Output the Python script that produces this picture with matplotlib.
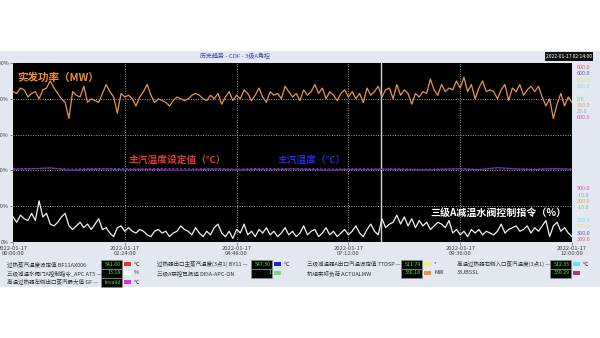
import numpy as np
import matplotlib
matplotlib.use("Agg")
import matplotlib.pyplot as plt
from matplotlib.patches import Rectangle

plt.rcParams['font.family'] = ['Noto Sans CJK SC', 'DejaVu Sans']

# ---------------- data ----------------
hours_total = 12.0
power_pct = [84, 83, 86, 85, 81, 83, 84, 80, 85, 86, 90,
             86, 83, 80, 78, 69, 84, 82, 81, 87, 78,
             80, 79, 78, 83, 88, 84, 81, 72, 83, 81,
             82, 80, 76, 81, 84, 88, 82, 78, 80, 79,
             78, 76, 79, 81, 80, 79, 80, 82, 83, 82,
             80, 79, 82, 80, 83, 77, 81, 84, 79, 82,
             80, 85, 83, 79, 82, 86, 81, 78, 84, 82,
             83, 80, 87, 84, 81, 83, 79, 85, 82, 84,
             88, 83, 86, 80, 84, 82, 79, 83, 85, 81,
             84, 80, 83, 78, 86, 82, 84, 87, 81, 85,
             86, 80, 88, 82, 85, 83, 77, 83, 81, 84,
             83, 91, 85, 82, 88, 84, 86, 85, 90, 86,
             92, 84, 88, 80, 86, 90, 84, 85, 84, 80,
             85, 88, 79, 86, 84, 88, 82, 85, 87, 84,
             87, 81, 76, 80, 69, 77, 83, 76, 81,
             78]
valve_pct = [14, 11, 15, 13, 12, 16, 12, 23, 14, 16, 10,
             9, 11, 14, 16, 9, 7, 9, 11, 8, 10,
             7, 10, 13, 7, 8, 5, 3, 8, 9, 6,
             8, 6, 5, 7, 6, 4, 3, 6, 7, 5,
             6, 3, 5, 6, 9, 7, 6, 4, 8, 5,
             3, 6, 4, 8, 10, 5, 3, 6, 2, 7,
             5, 10, 4, 6, 3, 7, 5, 8, 4, 6,
             3, 5, 8, 4, 6, 3, 5, 9, 4, 6,
             7, 3, 5, 8, 4, 6, 3, 5, 7, 4,
             6, 9, 5, 3, 7, 10, 6, 4, 13, 8,
             10, 11, 15, 10, 14, 9, 13, 8, 12, 9,
             11, 7, 9, 11, 10, 8, 12, 5, 7, 4,
             6, 3, 7, 5, 7, 4, 6, 5, 4, 6,
             10, 5, 7, 8, 9, 6, 7, 9, 5, 8,
             6, 9, 12, 3, 9, 11, 6, 8, 5,
             3]
temp_sp_pct = [41.2, 41.0, 41.3, 40.8, 41.0, 41.1, 41.0, 40.9, 41.1, 41.0,
               40.9, 41.0, 40.8, 41.0, 41.1, 40.9, 41.0, 40.8, 40.9, 41.0,
               40.8, 40.9, 40.7, 40.8, 40.9, 40.6, 40.8, 40.9, 40.7, 40.8, 40.8]
temp_act_pct = [40.6, 40.9, 41.4, 40.2, 40.5, 40.8, 40.3, 40.6, 40.4, 40.1,
                40.5, 40.7, 40.3, 40.6, 40.4, 40.8, 40.5, 40.2, 40.6, 40.4,
                40.7, 40.5, 40.3, 40.6, 40.9, 40.4, 41.6, 40.8, 40.5, 41.0, 40.6]
tick_hours = [0, 2.4, 4.8, 7.2, 9.6, 12]
tick_labels = ["2022-01-17\n00:00:00", "2022-01-17\n02:24:00", "2022-01-17\n04:48:00",
               "2022-01-17\n07:12:00", "2022-01-17\n09:36:00", "2022-01-17\n12:00:00"]
y_ticks = [0, 20, 40, 60, 80, 100]
y_labels = ["0%", "20%", "40%", "60%", "80%", "100%"]
cursor_hour = 7.9

scale_top = [("600.0", "#e06060"), ("600.0", "#5a5ad8"), ("600.0", "#e8e070"),
             ("600.0", "#80e0f0"), ("0.0", "#f4f4f4"), ("0.0", "#70d070"),
             ("350.0", "#e8a060"), ("25.0", "#a0a0c0"), ("600.0", "#c060d0")]
scale_bot = [("500.0", "#c060d0"), ("-10.0", "#a0a0c0"), ("300.0", "#e8a060"),
             ("-10.0", "#70d070"), ("0.0", "#f4f4f4"), ("500.0", "#80e0f0"),
             ("500.0", "#e8e070"), ("300.0", "#5a5ad8"), ("300.0", "#e06060")]

info_rows = [
    # (x_text, y, label, box_x, value, swatch color, unit)
    (7, 264, "过热蒸汽温度设定值 BF11AX006", 101, "541.00", "#e03030", "℃"),
    (7, 273, "三级减温水阀门A控制指令_APC AT5 —", 101, "13.18", "#ffffff", "%"),
    (7, 282, "高温过热器左侧出口蒸汽最大值 GF —", 101, "Invalid", "#e030e0", "℃"),
    (157, 264, "过热器出口主蒸汽温度(3点1) BY11 —", 251, "547.30", "#2020e0", "℃"),
    (157, 273, "三级A联控已投运 DEIA-APC-ON", 251, "1", "#70e070", ""),
    (307, 264, "三级减温器A出口汽温设定值 TTDSP —", 401, "511.74", "#f0f060", "*"),
    (307, 273, "机组实际负荷 ACTUALMW", 401, "330.18", "#f09040", "MW"),
    (457, 264, "高温过热器右侧入口蒸汽温度(3点1) —", 550, "512.35", "#70e0f0", "℃"),
    (457, 273, "33JBSSL", 550, "330.29", "#c03070", ""),
]

# ---------------- figure ----------------
W, H = 600, 338
fig = plt.figure(figsize=(6, 3.38), dpi=100)
fig.patch.set_facecolor("white")


def fx(x):
    return x / W


def fy(y):
    return 1 - y / H


# background panel
fig.patches.append(Rectangle((0, fy(287)), 1, fy(51) - fy(287), transform=fig.transFigure,
                             facecolor="#e2e7f0", edgecolor="none", zorder=-5))

ax = fig.add_axes([fx(13), fy(242), fx(559), 179 / H])
ax.set_zorder(2)
ax.set_facecolor("black")
ax.set_xlim(0, hours_total)
ax.set_ylim(0, 100)

t_power = np.linspace(0, hours_total, len(power_pct))
t_valve = np.linspace(0, hours_total, len(valve_pct))
t_temp = np.linspace(0, hours_total, len(temp_sp_pct))

for xv in tick_hours[1:-1]:
    ax.axvline(xv, color="#9a9a9a", lw=0.7, ls=(0, (1, 1.5)), zorder=1)
for yv in y_ticks[1:-1]:
    ax.axhline(yv, color="#9a9a9a", lw=0.7, ls=(0, (1, 1.5)), zorder=1)
ax.axvline(cursor_hour, color="#d0d0d0", lw=1.0, zorder=2)

ax.plot(t_power, power_pct, color="#e8944c", lw=0.9, zorder=4)
ax.plot(t_temp, temp_act_pct, color="#3a3ae0", lw=0.9, zorder=3)
ax.plot(t_temp, temp_sp_pct, color="#e03030", lw=0.7, ls=(0, (2, 2)), zorder=3)
ax.plot(t_valve, valve_pct, color="#f2f2f2", lw=0.9, zorder=4)

ax.set_xticks(tick_hours)
ax.set_xticklabels(tick_labels, fontsize=4.2, color="#404040", linespacing=1.0)
ax.set_yticks(y_ticks)
ax.set_yticklabels(y_labels, fontsize=3.8, color="#505050")
ax.tick_params(axis="both", length=2, width=0.5, pad=1, colors="#606060")
for lab in ax.get_xticklabels() + ax.get_yticklabels():
    lab.set_color("#404040")
for sp in ax.spines.values():
    sp.set_visible(False)

# series labels
ax.text(0.008, 0.945, "实发功率（MW）", transform=ax.transAxes, color="#f0903a",
        fontsize=7.6, fontweight="bold", va="top", ha="left", zorder=5)
ax.text(0.206, 0.46, "主汽温度设定值（℃）", transform=ax.transAxes, color="#e03838",
        fontsize=7.0, fontweight="bold", va="center", ha="left", zorder=5)
ax.text(0.474, 0.46, "主汽温度（℃）", transform=ax.transAxes, color="#2828d8",
        fontsize=7.0, fontweight="bold", va="center", ha="left", zorder=5)
ax.text(0.99, 0.165, "三级A减温水阀控制指令（%）", transform=ax.transAxes, color="white",
        fontsize=7.2, fontweight="bold", va="center", ha="right", zorder=5)

# header
fig.text(fx(200), fy(56.5), "历史趋势 - CDF - 3级A角控", fontsize=4.3, color="#3344aa",
         ha="left", va="center")
fig.patches.append(Rectangle((fx(545), fy(61)), fx(48), fy(52) - fy(61), transform=fig.transFigure,
                             facecolor="#101010", edgecolor="none"))
fig.text(fx(569), fy(56.5), "2022-01-17 02:14:00", fontsize=3.6, color="white",
         ha="center", va="center")

# right scale labels
for i, (txt, col) in enumerate(scale_top):
    fig.text(fx(577), fy(67.5 + i * 6.3), txt, fontsize=4.0, color=col, ha="left", va="center")
for i, (txt, col) in enumerate(scale_bot):
    fig.text(fx(577), fy(189 + i * 6.3), txt, fontsize=4.0, color=col, ha="left", va="center")

# info rows
for (xt, yy, lab, bx, val, sw, unit) in info_rows:
    fig.text(fx(xt), fy(yy), lab, fontsize=4.0, color="#303030", ha="left", va="center")
    fig.patches.append(Rectangle((fx(bx), fy(yy + 4.5)), fx(21), 9 / H, transform=fig.transFigure,
                                 facecolor="#050505", edgecolor="#909090", lw=0.5))
    fig.text(fx(bx + 20), fy(yy), val, fontsize=3.8, color="#40e040", ha="right", va="center")
    fig.patches.append(Rectangle((fx(bx + 23), fy(yy + 2)), fx(7), 4 / H, transform=fig.transFigure,
                                 facecolor=sw, edgecolor="none"))
    if unit:
        fig.text(fx(bx + 33), fy(yy), unit, fontsize=4.0, color="#303030", ha="left", va="center")

fig.savefig("out.png", dpi=100, facecolor="white")
